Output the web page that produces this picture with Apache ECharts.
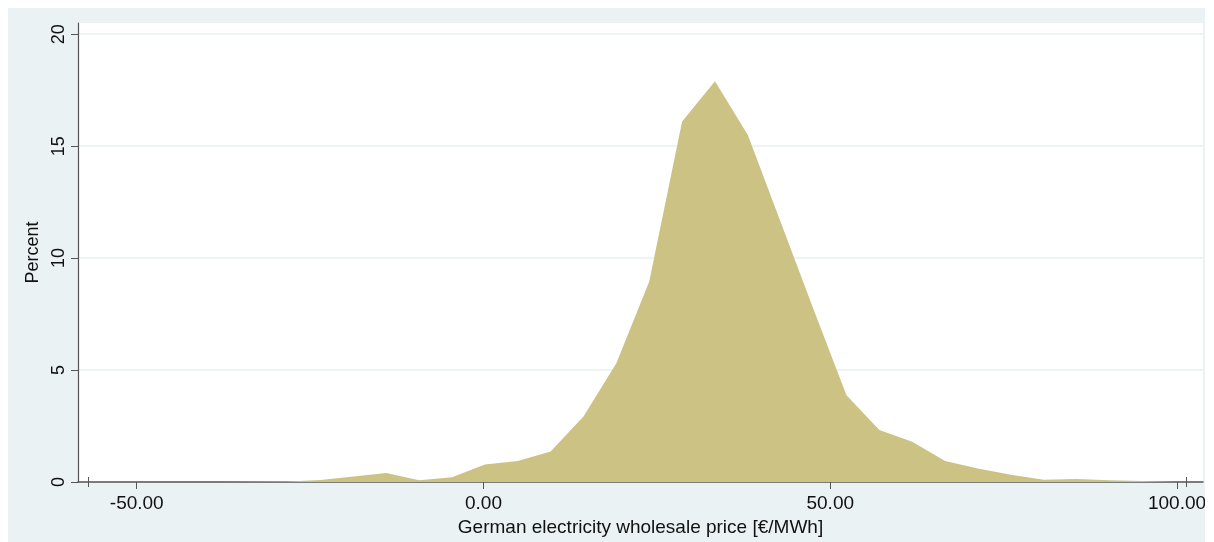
<!DOCTYPE html>
<html>
<head>
<meta charset="utf-8">
<script src="https://cdn.jsdelivr.net/npm/echarts@6/dist/echarts.min.js"></script>
<style>
  html, body { margin: 0; padding: 0; background: #ffffff; }
  #wrap { position: absolute; left: 0; top: 0; width: 1214px; height: 542px; background: #ffffff; }
  #chart { position: absolute; left: 8px; top: 8px; width: 1197px; height: 534px; background: #eaf2f3; }
</style>
</head>
<body>
<div id="wrap"><div id="chart"></div></div>
<script>
// Price bin midpoints (€/MWh)
const priceBins = [-56.68, -51.94, -47.20, -42.46, -37.72, -32.98, -28.24, -23.50, -18.76, -14.02,
  -9.28, -4.54, 0.20, 4.94, 9.68, 14.42, 19.16, 23.90, 28.64, 33.38, 38.12, 42.86, 47.60,
  52.34, 57.08, 61.82, 66.56, 71.30, 76.04, 80.78, 85.52, 90.26, 95.00, 99.74];
// Percent of observations
const percent = [0, 0, 0, 0, 0, 0.01, 0.02, 0.09, 0.25, 0.40,
  0.08, 0.21, 0.78, 0.94, 1.36, 2.93, 5.30, 8.95, 16.10, 17.90, 15.50, 11.60, 7.70,
  3.88, 2.32, 1.80, 0.94, 0.60, 0.32, 0.10, 0.13, 0.08, 0.04, 0.02];
const xTickLabels = [-50, 0, 50, 100];
const yTickLabels = [0, 5, 10, 15, 20];
const rangeTicks = [-57.06, 101.4];

const FONT = 'Liberation Sans';
const AXIS_COLOR = '#555555';
const XMIN = -58.47, XMAX = 103.75;

const chart = echarts.init(document.getElementById('chart'), null, { renderer: 'canvas' });
const seriesData = priceBins.map((x, i) => [x, percent[i]]);

const hiddenX = (inside) => ({
  type: 'value', min: XMIN, max: XMAX, position: 'bottom',
  axisLine: { show: false },
  axisLabel: { show: false },
  splitLine: { show: false },
  axisTick: { show: true, inside: inside, length: 5, customValues: rangeTicks,
    lineStyle: { color: AXIS_COLOR, width: 1 } }
});

chart.setOption({
  animation: false,
  backgroundColor: '#eaf2f3',
  grid: {
    left: 70, right: 2, top: 15, bottom: 60,
    outerBoundsMode: 'none', containLabel: false,
    show: true, backgroundColor: '#ffffff', borderWidth: 0
  },
  xAxis: [{
    type: 'value', min: XMIN, max: XMAX, position: 'bottom',
    name: 'German electricity wholesale price [€/MWh]',
    nameLocation: 'middle', nameGap: 33,
    nameTextStyle: { fontFamily: FONT, fontSize: 19, color: '#111' },
    axisLine: { show: true, onZero: false, lineStyle: { color: AXIS_COLOR, width: 1.5 } },
    axisTick: { show: true, length: 7, customValues: xTickLabels, lineStyle: { color: AXIS_COLOR, width: 1 } },
    axisLabel: { customValues: xTickLabels, margin: 12, fontFamily: FONT, fontSize: 19, color: '#111',
      formatter: v => v.toFixed(2) },
    splitLine: { show: false }
  }, hiddenX(true), hiddenX(false)],
  yAxis: {
    type: 'value', min: 0, max: 20.5, interval: 5,
    name: 'Percent', nameLocation: 'middle', nameGap: 30,
    nameTextStyle: { fontFamily: FONT, fontSize: 18, color: '#111' },
    axisLine: { show: true, onZero: false, lineStyle: { color: AXIS_COLOR, width: 1.2 } },
    axisTick: { show: true, length: 7, customValues: yTickLabels, lineStyle: { color: AXIS_COLOR, width: 1 } },
    axisLabel: { customValues: yTickLabels, rotate: 90, margin: 10, fontFamily: FONT, fontSize: 18, color: '#111' },
    splitLine: { show: true, lineStyle: { color: '#e6f0f1', width: 1.5 } }
  },
  series: [{
    type: 'line',
    data: seriesData,
    showSymbol: false,
    symbol: 'none',
    lineStyle: { width: 0, color: '#cbc283' },
    areaStyle: { color: '#cbc283', opacity: 1 },
    z: 3
  }]
});
</script>
</body>
</html>
